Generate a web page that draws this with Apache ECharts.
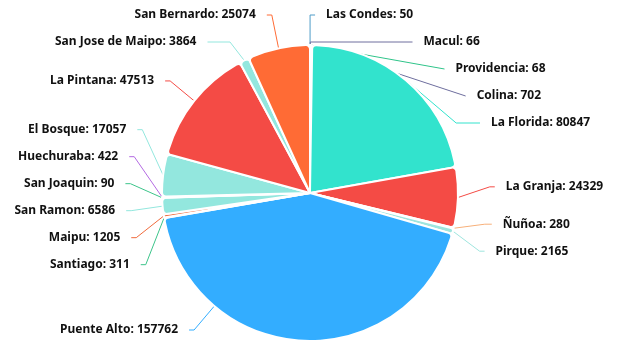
<!DOCTYPE html>
<html>
<head>
<meta charset="utf-8">
<script src="https://cdn.jsdelivr.net/npm/echarts@6/dist/echarts.min.js"></script>
<style>html,body{margin:0;padding:0;background:#fff}#c{width:626px;height:364px}</style>
</head>
<body>
<div id="c"></div>
<script>
const categories = ['Las Condes','Macul','Providencia','Colina','La Florida','La Granja','Ñuñoa','Pirque','Puente Alto','Santiago','Maipu','San Ramon','San Joaquin','Huechuraba','El Bosque','La Pintana','San Jose de Maipo','San Bernardo'];
const values = [50,66,68,702,80847,24329,280,2165,157762,311,1205,6586,90,422,17057,47513,3864,25074];
const colors = ['#4f9cc8','#6e6e9e','#2fc48a','#6e6e9e','#32e3cd','#f44b45','#f7b07a','#9ee5de','#33adff','#3cc48a','#f06a3c','#93e7de','#3cc48a','#b36ae2','#93e7de','#f44b45','#93e7de','#ff6b35'];

// layout constants
const CX = 310, CY = 193, R = 148, LEN1 = 32, LEN2 = 5, GAP = 11, ROW = 27, TOPB = 1.5, BOTB = 343.5;
const RX = R + LEN1 + LEN2;

// label layout (balanced shifting on each side, derived from the slice angles)
const total = values.reduce((a, b) => a + b, 0);
const geo = [];
let acc = 0;
values.forEach(v => {
  const a0 = acc / total * 360; acc += v; const a1 = acc / total * 360;
  geo.push({a0, a1, mid: (a0 + a1) / 2});
});
const rad = d => d * Math.PI / 180;
const polar = (deg, rr) => [CX + rr * Math.sin(rad(deg)), CY - rr * Math.cos(rad(deg))];

const items = geo.map((g, i) => {
  const n1 = polar(g.mid, R + LEN1);
  return {i, g, dir: Math.sin(rad(g.mid)) >= 0 ? 1 : -1, n1, top: n1[1] - ROW / 2};
});

function distribute(list) {
  list.sort((a, b) => a.top - b.top);
  const n = list.length;
  function shiftUp(end, delta) {
    for (let j = end; j >= 0; j--) {
      if (list[j].top - delta < TOPB) { if (list[j].top > TOPB) list[j].top = TOPB; break; }
      list[j].top -= delta;
      if (j > 0 && list[j].top > list[j - 1].top + ROW) break;
    }
  }
  function shiftDown(start, end, delta) {
    for (let j = start; j < end; j++) {
      if (list[j].top + delta > BOTB) break;
      list[j].top += delta;
      if (j + 1 < end && list[j + 1].top > list[j].top + ROW) { shiftUp(j, delta / 2); return; }
    }
    shiftUp(end - 1, delta / 2);
  }
  let lastY = TOPB;
  for (let i = 0; i < n; i++) {
    const d = list[i].top - lastY;
    if (d < 0) shiftDown(i, n, -d);
    lastY = list[i].top + ROW;
  }
  if (lastY > BOTB) shiftUp(n - 1, lastY - BOTB);
  for (let i = 0; i < n; i++) list[i].top = Math.max(list[i].top, i ? list[i - 1].top + ROW : TOPB);
  for (let i = n - 1; i >= 0; i--) list[i].top = Math.min(list[i].top, i < n - 1 ? list[i + 1].top - ROW : BOTB - ROW);
}
distribute(items.filter(it => it.dir > 0));
distribute(items.filter(it => it.dir < 0));

function limitSurfaceAngle(pts, normal) {
  const p0 = pts[0], p1 = pts[1], p2 = pts[2];
  let d1 = [p1[0] - p0[0], p1[1] - p0[1]], d2 = [p2[0] - p1[0], p2[1] - p1[1]];
  const l1 = Math.hypot(d1[0], d1[1]), l2 = Math.hypot(d2[0], d2[1]);
  if (l1 < 1e-3 || l2 < 1e-3) return;
  d1 = [d1[0] / l1, d1[1] / l1]; d2 = [d2[0] / l2, d2[1] / l2];
  if (d1[0] * normal[0] + d1[1] * normal[1] < 0) {
    const t0 = (p0[0] - p1[0]) * d2[0] + (p0[1] - p1[1]) * d2[1];
    let proj = [p1[0] + d2[0] * t0, p1[1] + d2[1] * t0];
    const dist = Math.hypot(p0[0] - proj[0], p0[1] - proj[1]);
    const angle2 = Math.acos(Math.max(-1, Math.min(1, d2[0] * normal[0] + d2[1] * normal[1])));
    if (angle2 >= Math.PI / 2) proj = p2.slice();
    else {
      proj = [proj[0] + d2[0] * dist / Math.tan(Math.PI / 2 - angle2), proj[1] + d2[1] * dist / Math.tan(Math.PI / 2 - angle2)];
      const t = p2[0] !== p1[0] ? (proj[0] - p1[0]) / (p2[0] - p1[0]) : (proj[1] - p1[1]) / (p2[1] - p1[1]);
      if (t < 0) proj = p1.slice(); else if (t > 1) proj = p2.slice();
    }
    pts[1] = proj;
  }
}

const labelPos = {};
items.forEach(it => {
  const y = it.top + ROW / 2, dir = it.dir, g = it.g;
  const dy = Math.abs(y - CY) + 3;
  const x2 = dy < R + LEN1 ? CX + dir * Math.sqrt(RX * RX - dy * dy) : it.n1[0] + dir * LEN2;
  let x1 = dir > 0 ? Math.min(it.n1[0], x2 - LEN2) : Math.max(it.n1[0], x2 + LEN2);
  let p0 = polar(g.mid, R);
  const normal = [Math.sin(rad(g.mid)), -Math.cos(rad(g.mid))];
  let pts = [p0, [x1, y], [x2, y]];
  const q = [x2 - dir * LEN2, y];
  let qa = Math.atan2(q[0] - CX, -(q[1] - CY)) * 180 / Math.PI; if (qa < 0) qa += 360;
  if ((q[0] - p0[0]) * normal[0] + (q[1] - p0[1]) * normal[1] < 0 && qa >= g.a0 && qa <= g.a1) {
    pts = [polar(qa, R), q, [x2, y]];
  } else {
    limitSurfaceAngle(pts, normal);
  }
  labelPos[it.i] = {x: x2 + dir * GAP, y, align: dir > 0 ? 'left' : 'right', pts};
});

const chart = echarts.init(document.getElementById('c'));
chart.setOption({
  animation: false,
  series: [{
    type: 'pie',
    center: [CX, CY],
    radius: [0, R],
    startAngle: 90,
    clockwise: true,
    avoidLabelOverlap: false,
    data: categories.map((n, i) => ({name: n, value: values[i], itemStyle: {color: colors[i]}})),
    itemStyle: {borderColor: '#fff', borderWidth: 2, borderRadius: 4},
    label: {
      formatter: '{b}: {c}',
      color: '#111',
      fontWeight: 'bold',
      fontSize: 12,
      fontFamily: 'Noto Sans'
    },
    labelLine: {length: LEN1, length2: LEN2, lineStyle: {width: 1}},
    labelLayout: function (params) {
      const p = labelPos[params.dataIndex];
      return {x: p.x, y: p.y, align: p.align, verticalAlign: 'middle', labelLinePoints: p.pts};
    }
  }]
});
</script>
</body>
</html>
